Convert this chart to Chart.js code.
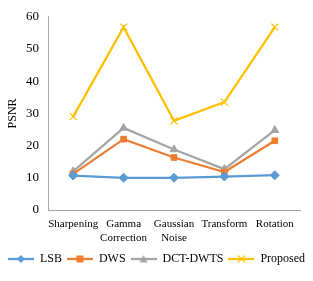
<!DOCTYPE html>
<html>
<head>
<meta charset="utf-8">
<script src="https://cdn.jsdelivr.net/npm/chart.js@4/dist/chart.umd.min.js"></script>
<style>
  html, body { margin: 0; padding: 0; background: #fff; }
  #wrap { width: 313px; height: 281px; }
</style>
</head>
<body>
<div id="wrap"><canvas id="psnrChart" width="313" height="281"></canvas></div>
<script>
// categories and values
var categories = ['Sharpening', ['Gamma', 'Correction'], ['Gaussian', 'Noise'], 'Transform', 'Rotation'];
var lsb = [10.7, 10.0, 10.0, 10.4, 10.8];
var dws = [11.2, 22.0, 16.3, 11.8, 21.5];
var dctDwts = [12.0, 25.5, 18.8, 12.7, 24.8];
var proposed = [29.0, 56.8, 27.7, 33.5, 56.8];
var yTicks = [0, 10, 20, 30, 40, 50, 60];

var serif = '"Liberation Serif", "Times New Roman", serif';

// small canvas with line + marker for the legend
function legendIcon(color, style) {
    var c = document.createElement('canvas');
    c.width = 26; c.height = 12;
    var g = c.getContext('2d');
    g.strokeStyle = color;
    g.lineWidth = 2.25;
    g.beginPath(); g.moveTo(0, 6); g.lineTo(26, 6); g.stroke();
    g.fillStyle = color;
    if (style === 'rectRot') {
        g.beginPath(); g.moveTo(13, 2); g.lineTo(17, 6); g.lineTo(13, 10); g.lineTo(9, 6); g.closePath(); g.fill();
    } else if (style === 'rect') {
        g.fillRect(9.5, 2.5, 7, 7);
    } else if (style === 'triangle') {
        g.beginPath(); g.moveTo(13, 2); g.lineTo(17, 9.5); g.lineTo(9, 9.5); g.closePath(); g.fill();
    } else {
        g.lineWidth = 1.2;
        g.beginPath(); g.moveTo(9.5, 2.5); g.lineTo(16.5, 9.5); g.moveTo(16.5, 2.5); g.lineTo(9.5, 9.5); g.stroke();
    }
    return c;
}

function series(label, data, color, style, radius) {
    return {
        label: label,
        data: data,
        borderColor: color,
        backgroundColor: color,
        borderWidth: 2.25,
        pointStyle: style,
        pointRadius: radius,
        pointBorderWidth: style === 'crossRot' ? 1.2 : 1,
        pointBackgroundColor: color,
        pointBorderColor: color,
        tension: 0,
        legendIcon: legendIcon(color, style)
    };
}

document.addEventListener('DOMContentLoaded', function() {
    var ctx = document.getElementById('psnrChart').getContext('2d');

    new Chart(ctx, {
        type: 'line',
        data: {
            labels: categories,
            datasets: [
                series('LSB', lsb, '#5B9BD5', 'rectRot', 4.5),
                series('DWS', dws, '#ED7D31', 'rect', 4),
                series('DCT-DWTS', dctDwts, '#A5A5A5', 'triangle', 4.5),
                series('Proposed', proposed, '#FFC000', 'crossRot', 5)
            ]
        },
        options: {
            responsive: false,
            animation: false,
            devicePixelRatio: 1,
            layout: { padding: { top: 15, right: 0, left: 0, bottom: 6 } },
            plugins: {
                legend: {
                    position: 'bottom',
                    labels: {
                        usePointStyle: true,
                        pointStyleWidth: 26,
                        boxHeight: 12,
                        padding: 5,
                        color: '#000',
                        font: { family: serif, size: 12 },
                        generateLabels: function(chart) {
                            return chart.data.datasets.map(function(ds, i) {
                                return {
                                    text: ds.label,
                                    pointStyle: ds.legendIcon,
                                    fillStyle: ds.borderColor,
                                    strokeStyle: ds.borderColor,
                                    lineWidth: 0,
                                    fontColor: '#000',
                                    hidden: false,
                                    datasetIndex: i
                                };
                            });
                        }
                    }
                },
                tooltip: { enabled: false }
            },
            scales: {
                x: {
                    offset: true,
                    grid: { display: false, drawTicks: false },
                    border: { color: '#A6A6A6', width: 1 },
                    ticks: {
                        color: '#000',
                        padding: 8,
                        maxRotation: 0,
                        autoSkip: false,
                        font: { family: serif, size: 11 }
                    },
                    afterFit: function(axis) { axis.height = 38; }
                },
                y: {
                    min: 0,
                    max: 60,
                    grid: { display: false, drawTicks: false },
                    border: { color: '#A6A6A6', width: 1 },
                    afterBuildTicks: function(axis) {
                        axis.ticks = yTicks.map(function(v) { return { value: v }; });
                    },
                    ticks: {
                        color: '#000',
                        padding: 9,
                        font: { family: serif, size: 13 }
                    },
                    title: {
                        display: true,
                        text: 'PSNR',
                        color: '#000',
                        padding: { top: 6, bottom: 2 },
                        font: { family: serif, size: 12 }
                    },
                    afterFit: function(axis) { axis.width = 48; }
                },
                // empty right axis, only keeps the plot 13px from the edge
                yRight: {
                    position: 'right',
                    display: true,
                    grid: { display: false, drawTicks: false },
                    border: { display: false },
                    ticks: { display: false },
                    afterFit: function(axis) { axis.width = 13; }
                }
            }
        }
    });
});
</script>
</body>
</html>
